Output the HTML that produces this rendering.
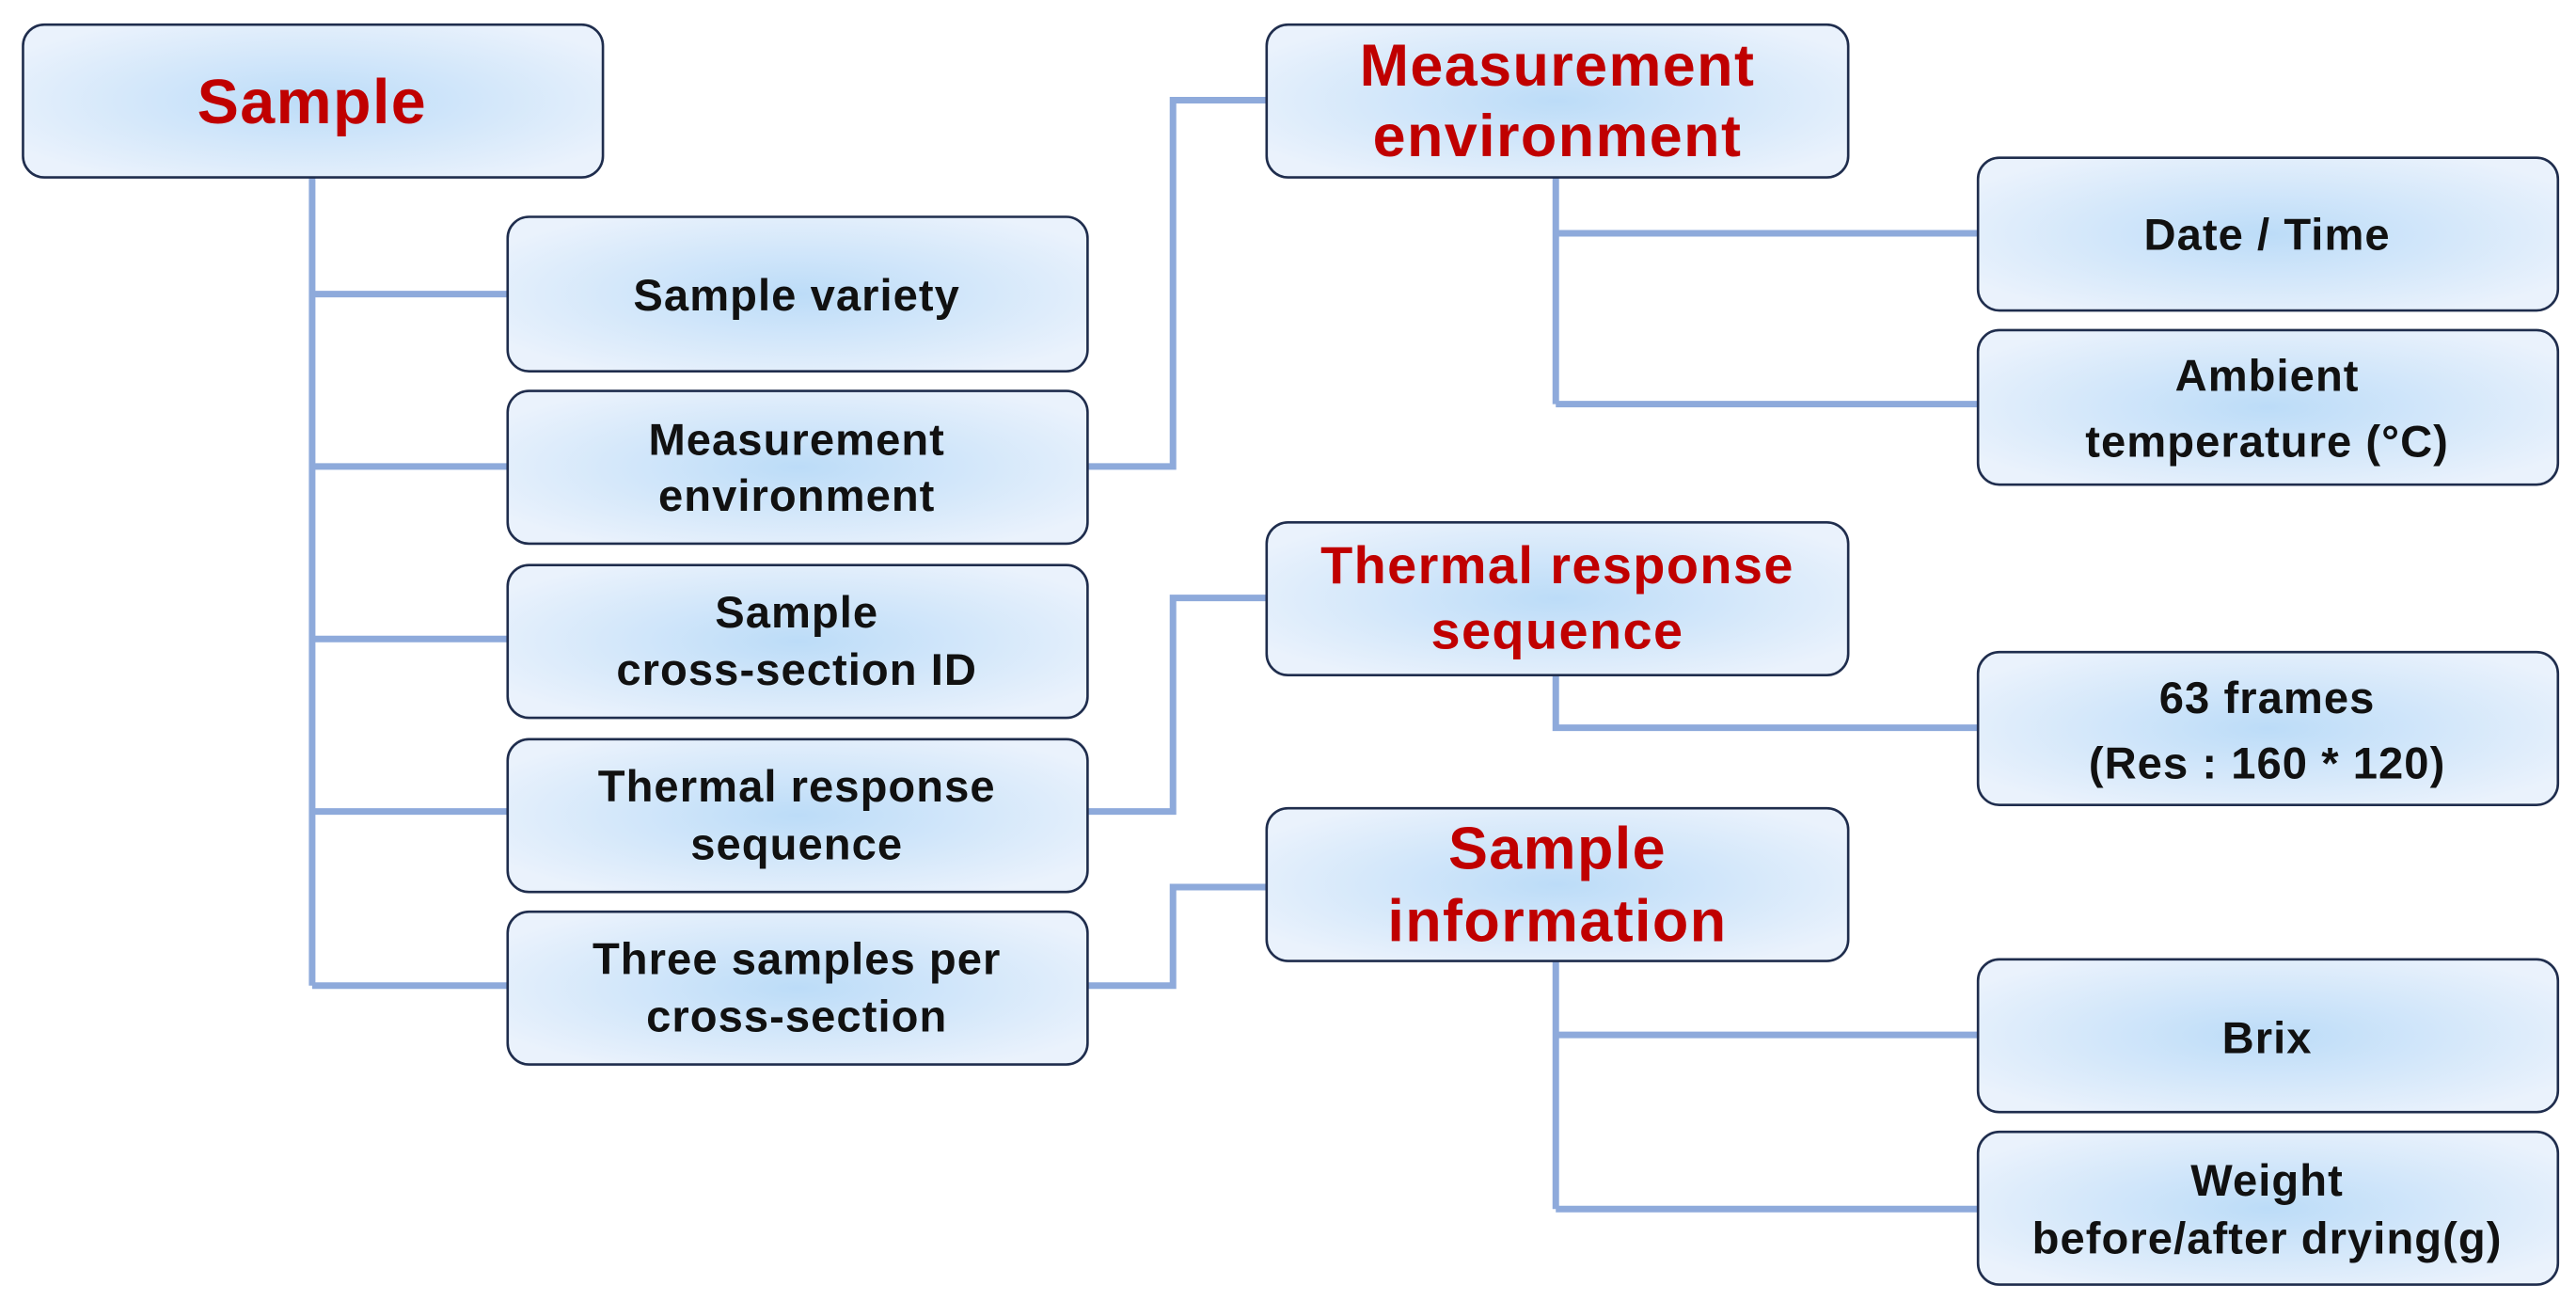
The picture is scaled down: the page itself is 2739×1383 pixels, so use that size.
<!DOCTYPE html>
<html><head><meta charset="utf-8"><style>
html,body{margin:0;padding:0;background:#fff;}
svg{display:block;}
text{font-family:"Liberation Sans",sans-serif;font-weight:bold;text-anchor:middle;}
.c{font-size:27px;fill:#111;letter-spacing:0.6px;}
.r{font-size:36px;fill:#c00000;letter-spacing:0.8px;}
</style></head><body>
<svg width="2739" height="1383" viewBox="0 0 1568 792" preserveAspectRatio="none" xmlns="http://www.w3.org/2000/svg">
<defs>
<radialGradient id="g" cx="50%" cy="50%" r="60%">
<stop offset="0" stop-color="#bcdcf8"/>
<stop offset="1" stop-color="#eaf2fc"/>
</radialGradient>
</defs>
<g stroke="#8eaadb" stroke-width="4" fill="none">
<path d="M190 108V600M190 179H309M190 284H309M190 389H309M190 494H309M190 600H309"/>
<path d="M662 284H714V61H771M662 494H714V364H771M662 600H714V540H771"/>
<path d="M947 108V246M947 142H1204M947 246H1204"/>
<path d="M947 411V443H1204"/>
<path d="M947 585V736M947 630H1204M947 736H1204"/>
</g>
<g fill="url(#g)" stroke="#1f2d4d" stroke-width="1.5">
<rect x="14" y="15" width="353" height="93" rx="13"/>
<rect x="309" y="132" width="353" height="94" rx="13"/>
<rect x="309" y="238" width="353" height="93" rx="13"/>
<rect x="309" y="344" width="353" height="93" rx="13"/>
<rect x="309" y="450" width="353" height="93" rx="13"/>
<rect x="309" y="555" width="353" height="93" rx="13"/>
<rect x="771" y="15" width="354" height="93" rx="13"/>
<rect x="1204" y="96" width="353" height="93" rx="13"/>
<rect x="1204" y="201" width="353" height="94" rx="13"/>
<rect x="771" y="318" width="354" height="93" rx="13"/>
<rect x="1204" y="397" width="353" height="93" rx="13"/>
<rect x="771" y="492" width="354" height="93" rx="13"/>
<rect x="1204" y="584" width="353" height="93" rx="13"/>
<rect x="1204" y="689" width="353" height="93" rx="13"/>
</g>
<text class="r" x="190" y="75" style="font-size:38px">Sample</text>
<text class="c" x="485" y="189">Sample variety</text>
<text class="c" x="485" y="277">Measurement</text>
<text class="c" x="485" y="311">environment</text>
<text class="c" x="485" y="382">Sample</text>
<text class="c" x="485" y="417">cross-section ID</text>
<text class="c" x="485" y="488">Thermal response</text>
<text class="c" x="485" y="523">sequence</text>
<text class="c" x="485" y="593">Three samples per</text>
<text class="c" x="485" y="628">cross-section</text>
<text class="r" x="948" y="52">Measurement</text>
<text class="r" x="948" y="95">environment</text>
<text class="c" x="1380" y="152">Date / Time</text>
<text class="c" x="1380" y="238">Ambient</text>
<text class="c" x="1380" y="278">temperature (°C)</text>
<text class="r" x="948" y="355" style="font-size:32px">Thermal response</text>
<text class="r" x="948" y="395" style="font-size:32px">sequence</text>
<text class="c" x="1380" y="434">63 frames</text>
<text class="c" x="1380" y="474">(Res : 160 * 120)</text>
<text class="r" x="948" y="529">Sample</text>
<text class="r" x="948" y="573">information</text>
<text class="c" x="1380" y="641">Brix</text>
<text class="c" x="1380" y="728">Weight</text>
<text class="c" x="1380" y="763">before/after drying(g)</text>
</svg>
</body></html>
